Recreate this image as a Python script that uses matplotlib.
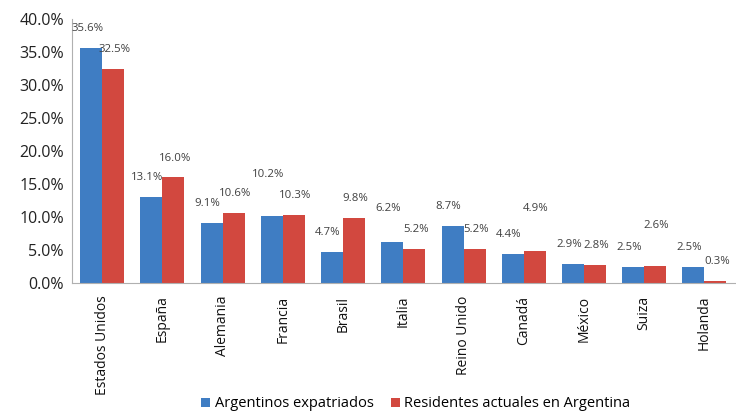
import matplotlib.pyplot as plt
import numpy as np

paises = ["Estados Unidos", "España", "Alemania", "Francia", "Brasil", "Italia",
          "Reino Unido", "Canadá", "México", "Suiza", "Holanda"]
expatriados = [35.6, 13.1, 9.1, 10.2, 4.7, 6.2, 8.7, 4.4, 2.9, 2.5, 2.5]
residentes = [32.5, 16.0, 10.6, 10.3, 9.8, 5.2, 5.2, 4.9, 2.8, 2.6, 0.3]
y_ticks = [0, 5, 10, 15, 20, 25, 30, 35, 40]

# labels the original pushes higher than the rest (pixels)
raise_blue = [0, 0, 0, 22, 0, 14, 0, 0, 0, 0, 0]
raise_red = [0, 0, 0, 0, 0, 0, 0, 23, 0, 21, 0]

plt.rcParams['font.family'] = ['Open Sans', 'DejaVu Sans']
blue = "#3f7dc3"
red = "#d2483f"
txt = "#404040"

fig = plt.figure(figsize=(7.36, 4.15), dpi=100)
ax = fig.add_axes([0.098, 0.318, 0.90, 0.636])

x = np.arange(len(paises))
w = 0.365
b1 = ax.bar(x - w/2, expatriados, w, color=blue, label="Argentinos expatriados")
b2 = ax.bar(x + w/2, residentes, w, color=red, label="Residentes actuales en Argentina")

for rects, vals, extra, dx in ((b1, expatriados, raise_blue, -3), (b2, residentes, raise_red, 1)):
    for r, v, e in zip(rects, vals, extra):
        ax.annotate(f"{v:.1f}%", (r.get_x() + r.get_width()/2, v),
                    xytext=(dx, 10 + e * 0.72), textcoords="offset points",
                    ha="center", va="bottom", fontsize=8.2, color=txt)

ax.set_xlim(-0.5, len(paises) - 0.5)
ax.set_ylim(0, 40)
ax.set_yticks(y_ticks)
ax.set_yticklabels([f"{t:.1f}%" for t in y_ticks], fontsize=11.5, color="#222222")
ax.set_xticks(x)
ax.set_xticklabels(paises, rotation=90, fontsize=10, color="#111111")
ax.tick_params(axis="both", length=0, pad=6)
ax.tick_params(axis="x", pad=9)

for s in ["top", "right"]:
    ax.spines[s].set_visible(False)
ax.spines["left"].set_color("#b0b0b0")
ax.spines["bottom"].set_color("#b0b0b0")

fig.legend(loc="center", bbox_to_anchor=(0.565, 0.027), ncol=2, frameon=False,
           fontsize=10.5, handlelength=0.6, handleheight=0.6, handletextpad=0.3,
           columnspacing=1.2)

plt.savefig("out.png", dpi=100)
